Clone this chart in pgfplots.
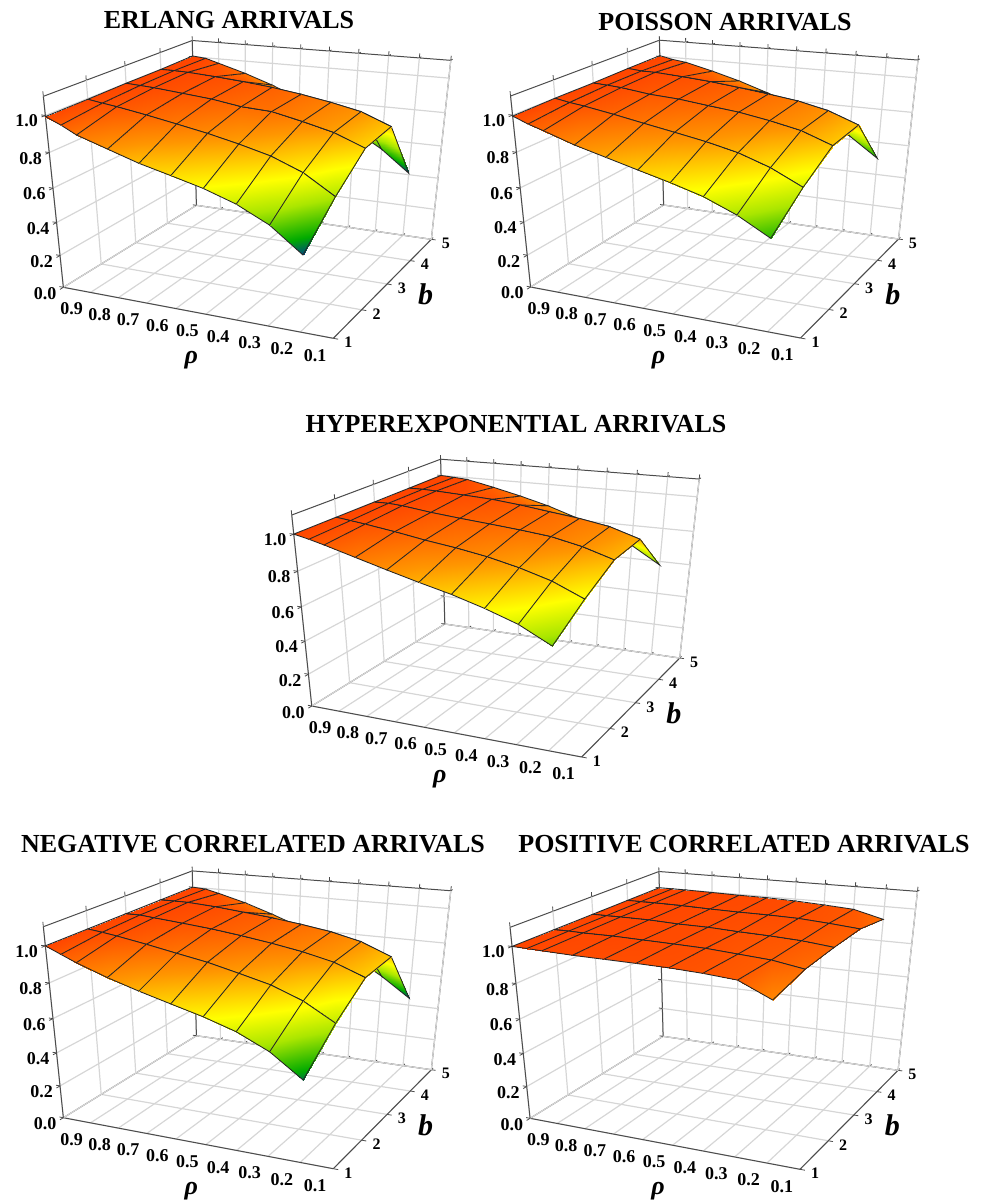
\documentclass[border=0pt]{standalone}
\usepackage{fontspec}
\usepackage{pgfplots}
\pgfplotsset{compat=1.18}
\setmainfont{Liberation Serif}
% perspective version of the axis projection (reference is drawn with a vanishing point)
\makeatletter
\newdimen\persd
\def\persapply#1#2#3{%
  \persd=.8346pt
  \advance\persd by #1\dimexpr.1172pt\relax
  \advance\persd by #2\dimexpr.04823pt\relax
  \advance\persd by #3\dimexpr-.0918pt\relax
  \global\pgf@x=#1\pgf@xx \global\advance\pgf@x by #2\pgf@yx \global\advance\pgf@x by #3\pgf@zx
  \global\advance\pgf@x by 228.65pt
  \global\pgf@y=#1\pgf@xy \global\advance\pgf@y by #2\pgf@yy \global\advance\pgf@y by #3\pgf@zy
  \global\advance\pgf@y by -75.12pt
  \global\pgf@x=\dimexpr\pgf@x*65536/\number\persd\relax
  \global\pgf@y=\dimexpr\pgf@y*65536/\number\persd\relax
}
\let\pgfplotsqpointxyz\persapply
\makeatother
\pgfplotsset{
  colormap={surfmap}{[1cm] rgb255(44cm)=(0,70,130) rgb255(50cm)=(0,170,0) rgb255(62cm)=(170,230,0) rgb255(72cm)=(255,255,0) rgb255(86cm)=(255,150,0) rgb255(100cm)=(255,70,0)},
  panel/.style={
    disabledatascaling, clip=false, anchor=origin, x dir=reverse,
    x={(268.3pt,-50.67pt)}, y={(39.68pt,24.45pt)}, z={(-16.36pt,156.1pt)},
    xmin=0.1,xmax=1,ymin=1,ymax=5,zmin=0,zmax=1.1,
    xtick={0.1,0.2,0.3,0.4,0.5,0.6,0.7,0.8,0.9}, ytick={1,2,3,4,5}, ztick={0,0.2,0.4,0.6,0.8,1.0},
    tick label style={font=\bfseries\fontsize{18}{18}\selectfont,inner sep=1pt,/pgf/number format/assume math mode=true},
    xticklabel style={/pgf/number format/fixed,/pgf/number format/fixed zerofill,/pgf/number format/precision=1,xshift=-28pt,yshift=-7pt},
    zticklabel style={/pgf/number format/fixed,/pgf/number format/fixed zerofill,/pgf/number format/precision=1,xshift=-27pt},
    yticklabel style={font=\bfseries\fontsize{16}{16}\selectfont},
    grid=major, major grid style={draw=black!16,line width=1.2pt},
    axis line style={draw=black!70,line width=1pt},
    tick style={draw=black!70,line width=.8pt}, tick align=outside, major tick length=4pt,
    xtick pos=right, ytick pos=right, ztick pos=left,
    xticklabel pos=left, yticklabel pos=left,
    xlabel={\fontsize{26}{26}\selectfont\bfseries\itshape ρ}, ylabel={\fontsize{30}{30}\selectfont\bfseries\itshape b},
    xlabel style={at={(axis cs:0.382,-0.756,0)},anchor=center,sloped=false,xshift=14pt,yshift=15pt},
    ylabel style={at={(axis cs:0.1,3.2,-0.1)},anchor=center,sloped=false,rotate=0,xshift=35pt},
    colormap name=surfmap, point meta min=0.44, point meta max=1,
  },
  surfst/.style={surf,shader=faceted interp,faceted color=black!85,line width=.85pt,z buffer=default,mesh/ordering=x varies},
}
\begin{document}
\begin{tikzpicture}
\path[use as bounding box] (0,0) rectangle (984pt,1200pt);
% ---- ERLANG
\begin{axis}[panel,at={(333.3pt,861.7pt)}]
\addplot3[surfst,mesh/rows=5] coordinates {
(1,5,1.005)(.95,5,.997)(.9,5,.973)(.8,5,.925)(.7,5,.868)(.6,5,.80)(.5,5,.73)(.4,5,.64)(.3,5,.54)(.2,5,.409)

(1,4,1.0)(.95,4,1.0)(.9,4,.997)(.8,4,.986)(.7,4,.972)(.6,4,.954)(.5,4,.930)(.4,4,.900)(.3,4,.864)(.2,4,.797)

(1,3,1.0)(.95,3,.995)(.9,3,.990)(.8,3,.974)(.7,3,.958)(.6,3,.932)(.5,3,.922)(.4,3,.885)(.3,3,.843)(.2,3,.776)

(1,2,.996)(.95,2,.983)(.9,2,.972)(.8,2,.944)(.7,2,.913)(.6,2,.881)(.5,2,.843)(.4,2,.799)(.3,2,.731)(.2,2,.624)

(1,1,.994)(.95,1,.958)(.9,1,.915)(.8,1,.860)(.7,1,.805)(.6,1,.762)(.5,1,.717)(.4,1,.658)(.3,1,.572)(.2,1,.439)
};
\end{axis}
\node[font=\bfseries\fontsize{26}{26}\selectfont] at (229pt,1180pt) {ERLANG ARRIVALS};
% ---- POISSON
\begin{axis}[panel,at={(800.5pt,862pt)}]
\addplot3[surfst,mesh/rows=5] coordinates {
(1,5,1.005)(.95,5,.988)(.9,5,.977)(.8,5,.937)(.7,5,.891)(.6,5,.836)(.5,5,.78)(.4,5,.71)(.3,5,.62)(.2,5,.501)

(1,4,1.004)(.95,4,.996)(.9,4,.995)(.8,4,.984)(.7,4,.970)(.6,4,.951)(.5,4,.930)(.4,4,.906)(.3,4,.868)(.2,4,.804)

(1,3,1.0)(.95,3,.995)(.9,3,.989)(.8,3,.967)(.7,3,.956)(.6,3,.936)(.5,3,.917)(.4,3,.888)(.3,3,.852)(.2,3,.789)

(1,2,1.0)(.95,2,.985)(.9,2,.974)(.8,2,.946)(.7,2,.915)(.6,2,.885)(.5,2,.854)(.4,2,.815)(.3,2,.756)(.2,2,.673)

(1,1,.995)(.95,1,.962)(.9,1,.936)(.8,1,.880)(.7,1,.835)(.6,1,.790)(.5,1,.746)(.4,1,.696)(.3,1,.624)(.2,1,.527)
};
\end{axis}
\node[font=\bfseries\fontsize{26}{26}\selectfont] at (725pt,1178pt) {POISSON ARRIVALS};
% ---- HYPEREXPONENTIAL
\begin{axis}[panel,at={(581.7pt,443pt)}]
\addplot3[surfst,mesh/rows=5] coordinates {
(1,5,1.0)(.95,5,.995)(.9,5,.989)(.8,5,.954)(.7,5,.915)(.6,5,.871)(.5,5,.816)(.4,5,.76)(.3,5,.68)(.2,5,.578)

(1,4,1.0)(.95,4,1.0)(.9,4,.997)(.8,4,.988)(.7,4,.978)(.6,4,.960)(.5,4,.937)(.4,4,.915)(.3,4,.885)(.2,4,.831)

(1,3,1.0)(.95,3,1.0)(.9,3,.994)(.8,3,.972)(.7,3,.955)(.6,3,.940)(.5,3,.924)(.4,3,.905)(.3,3,.868)(.2,3,.815)

(1,2,1.0)(.95,2,.99)(.9,2,.979)(.8,2,.955)(.7,2,.927)(.6,2,.904)(.5,2,.875)(.4,2,.836)(.3,2,.786)(.2,2,.712)

(1,1,1.0)(.95,1,.982)(.9,1,.961)(.8,1,.915)(.7,1,.869)(.6,1,.825)(.5,1,.784)(.4,1,.734)(.3,1,.675)(.2,1,.587)
};
\end{axis}
\node[font=\bfseries\fontsize{26}{26}\selectfont] at (516pt,776pt) {HYPEREXPONENTIAL ARRIVALS};
% ---- NEGATIVE
\begin{axis}[panel,at={(333.3pt,31.3pt)}]
\addplot3[surfst,mesh/rows=5] coordinates {
(1,5,1.0)(.95,5,.995)(.9,5,.975)(.8,5,.931)(.7,5,.876)(.6,5,.815)(.5,5,.75)(.4,5,.66)(.3,5,.56)(.2,5,.443)

(1,4,1.0)(.95,4,1.0)(.9,4,.999)(.8,4,.988)(.7,4,.971)(.6,4,.954)(.5,4,.932)(.4,4,.906)(.3,4,.866)(.2,4,.798)

(1,3,1.0)(.95,3,1.0)(.9,3,.992)(.8,3,.977)(.7,3,.961)(.6,3,.940)(.5,3,.915)(.4,3,.886)(.3,3,.847)(.2,3,.782)

(1,2,1.0)(.95,2,.99)(.9,2,.978)(.8,2,.950)(.7,2,.919)(.6,2,.889)(.5,2,.849)(.4,2,.807)(.3,2,.742)(.2,2,.645)

(1,1,1.0)(.95,1,.964)(.9,1,.929)(.8,1,.870)(.7,1,.819)(.6,1,.773)(.5,1,.728)(.4,1,.673)(.3,1,.592)(.2,1,.468)
};
\end{axis}
\node[font=\bfseries\fontsize{26}{26}\selectfont] at (253pt,356pt) {NEGATIVE CORRELATED ARRIVALS};
% ---- POSITIVE
\begin{axis}[panel,at={(800pt,30.7pt)}]
\addplot3[surfst,mesh/rows=5] coordinates {
(1,5,1.0)(.95,5,1.0)(.9,5,1.0)(.8,5,.998)(.7,5,.995)(.6,5,.994)(.5,5,.989)(.4,5,.98)(.3,5,.969)(.2,5,.926)

(1,4,1.0)(.95,4,1.0)(.9,4,1.0)(.8,4,.998)(.7,4,.993)(.6,4,.99)(.5,4,.989)(.4,4,.985)(.3,4,.973)(.2,4,.958)

(1,3,1.0)(.95,3,1.0)(.9,3,1.0)(.8,3,.999)(.7,3,.992)(.6,3,.990)(.5,3,.982)(.4,3,.976)(.3,3,.967)(.2,3,.949)

(1,2,1.0)(.95,2,1.0)(.9,2,.998)(.8,2,.998)(.7,2,.994)(.6,2,.990)(.5,2,.985)(.4,2,.973)(.3,2,.961)(.2,2,.933)

(1,1,1.0)(.95,1,.998)(.9,1,.995)(.8,1,.99)(.7,1,.988)(.6,1,.986)(.5,1,.983)(.4,1,.975)(.3,1,.962)(.2,1,.885)
};
\end{axis}
\node[font=\bfseries\fontsize{26}{26}\selectfont] at (744pt,356pt) {POSITIVE CORRELATED ARRIVALS};
\end{tikzpicture}
\end{document}
